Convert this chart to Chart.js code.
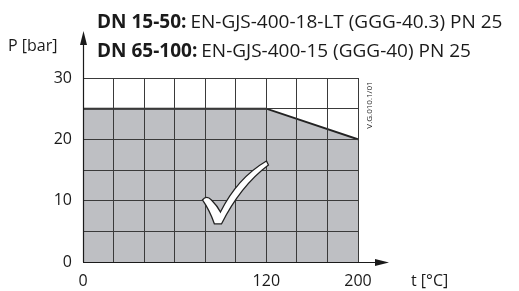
<!DOCTYPE html>
<html>
<head>
<meta charset="utf-8">
<script src="https://cdn.jsdelivr.net/npm/chart.js@4.4.1/dist/chart.umd.min.js"></script>
<style>
  html, body { margin: 0; padding: 0; background: #fff; }
  #wrap { width: 519px; height: 291px; }
</style>
</head>
<body>
<div id="wrap"><canvas id="chart"></canvas></div>
<script>
/* =========================
   DATA
========================= */
// x axis is drawn in grid columns (9 columns); only some carry a °C label
const xTickPos = [0, 6, 9];
const xTickText = ["0", "120", "200"];
const yTickLabels = [0, 10, 20, 30];

// pressure / temperature limit (column, bar)
const limitCol = [0, 6, 9];
const limitBar = [25, 25, 20];

// faint reference lines inside the grey area
const refACol = [0, 9];
const refABar = [25, 20];
const refBCol = [0, 9];
const refBBar = [20, 0];

const headerBold = ["DN 15-50:", "DN 65-100:"];
const headerText = ["EN-GJS-400-18-LT (GGG-40.3) PN 25", "EN-GJS-400-15 (GGG-40) PN 25"];

const FONT = "'Open Sans', 'Noto Sans', sans-serif";

function pts(xs, ys) {
  return xs.map((x, i) => ({ x: x, y: ys[i] }));
}

/* =========================
   DECORATION PLUGIN
========================= */
const decor = {
  id: "decor",
  afterDraw(chart) {
    const ctx = chart.ctx;
    const xs = chart.scales.x, ys = chart.scales.y;
    const left = Math.round(xs.getPixelForValue(0));
    const bottom = Math.round(ys.getPixelForValue(0));
    ctx.save();
    ctx.setLineDash([]);

    // check mark
    const bx = xs.getPixelForValue(4.4), by = ys.getPixelForValue(6.2);
    ctx.beginPath();
    ctx.moveTo(bx - 15, by - 24);
    ctx.quadraticCurveTo(bx - 11, by - 29, bx - 6, by - 24);
    ctx.quadraticCurveTo(bx, by - 18, bx + 3, by - 12);
    ctx.quadraticCurveTo(bx + 20, by - 46, bx + 49, by - 63);
    ctx.lineTo(bx + 51, by - 59);
    ctx.quadraticCurveTo(bx + 23, by - 38, bx + 4, by);
    ctx.lineTo(bx - 3, by);
    ctx.quadraticCurveTo(bx - 8, by - 14, bx - 15, by - 24);
    ctx.closePath();
    ctx.fillStyle = "#fff";
    ctx.fill();
    ctx.strokeStyle = "#222";
    ctx.lineWidth = 1.3;
    ctx.stroke();

    // axis lines with arrows
    ctx.strokeStyle = "#1a1a1a";
    ctx.fillStyle = "#1a1a1a";
    ctx.lineWidth = 1.2;
    ctx.beginPath();
    ctx.moveTo(left + 0.5, bottom);
    ctx.lineTo(left + 0.5, 40);
    ctx.stroke();
    ctx.beginPath();
    ctx.moveTo(left, bottom + 0.5);
    ctx.lineTo(378, bottom + 0.5);
    ctx.stroke();
    ctx.beginPath();
    ctx.moveTo(left + 0.5, 31);
    ctx.lineTo(left + 4, 45);
    ctx.lineTo(left - 3, 45);
    ctx.closePath();
    ctx.fill();
    ctx.beginPath();
    ctx.moveTo(389, bottom + 0.5);
    ctx.lineTo(375, bottom + 4);
    ctx.lineTo(375, bottom - 3);
    ctx.closePath();
    ctx.fill();

    // header lines
    ctx.fillStyle = "#1a1a1a";
    ctx.textBaseline = "alphabetic";
    ctx.textAlign = "left";
    const baselines = [28, 57];
    headerBold.forEach((b, i) => {
      ctx.font = "bold 19px " + FONT;
      ctx.fillText(b, 97, baselines[i]);
      const w = ctx.measureText(b).width;
      ctx.font = "19px " + FONT;
      ctx.fillText(headerText[i], 97 + w + 4, baselines[i]);
    });

    // axis titles
    ctx.font = "16px " + FONT;
    ctx.fillText("P [bar]", 8, 51);
    ctx.fillText("t [°C]", 411, 286);

    // drawing number
    ctx.font = "8px " + FONT;
    ctx.translate(372, 105);
    ctx.rotate(-Math.PI / 2);
    ctx.textAlign = "center";
    ctx.fillText("V.G.010.1/01", 0, 0);
    ctx.restore();
  }
};

/* =========================
   CHART
========================= */
new Chart(document.getElementById("chart"), {
  type: "line",
  data: {
    datasets: [
      {
        data: pts(limitCol, limitBar),
        fill: "origin",
        backgroundColor: "#bebfc3",
        borderColor: "#222",
        borderWidth: 2,
        pointRadius: 0,
        tension: 0
      },
      {
        data: pts(refACol, refABar),
        fill: false,
        borderColor: "rgba(255,255,255,0.6)",
        borderWidth: 1,
        borderDash: [8, 5],
        pointRadius: 0
      },
      {
        data: pts(refBCol, refBBar),
        fill: false,
        borderColor: "rgba(255,255,255,0.55)",
        borderWidth: 1,
        borderDash: [2, 2],
        pointRadius: 0
      }
    ]
  },
  options: {
    responsive: true,
    maintainAspectRatio: false,
    animation: false,
    layout: { padding: { top: 78, right: 161, left: 0, bottom: 0 } },
    plugins: { legend: { display: false }, tooltip: { enabled: false } },
    scales: {
      x: {
        type: "linear",
        min: 0,
        max: 9,
        border: { display: false },
        grid: { color: "#3a3a3a", lineWidth: 1, drawTicks: false, z: 1 },
        ticks: {
          stepSize: 1,
          padding: 10,
          autoSkip: false,
          maxRotation: 0,
          color: "#1a1a1a",
          font: { family: FONT, size: 16 },
          callback: v => {
            const i = xTickPos.indexOf(v);
            return i >= 0 ? xTickText[i] : "";
          }
        },
        afterFit: s => { s.height = 29; }
      },
      y: {
        min: 0,
        max: 30,
        border: { display: false },
        grid: { color: "#3a3a3a", lineWidth: 1, drawTicks: false, z: 1 },
        ticks: {
          stepSize: 5,
          padding: 11,
          color: "#1a1a1a",
          font: { family: FONT, size: 16 },
          callback: v => yTickLabels.includes(v) ? String(v) : ""
        },
        afterFit: s => { s.width = 83; }
      }
    }
  },
  plugins: [decor]
});
</script>
</body>
</html>
